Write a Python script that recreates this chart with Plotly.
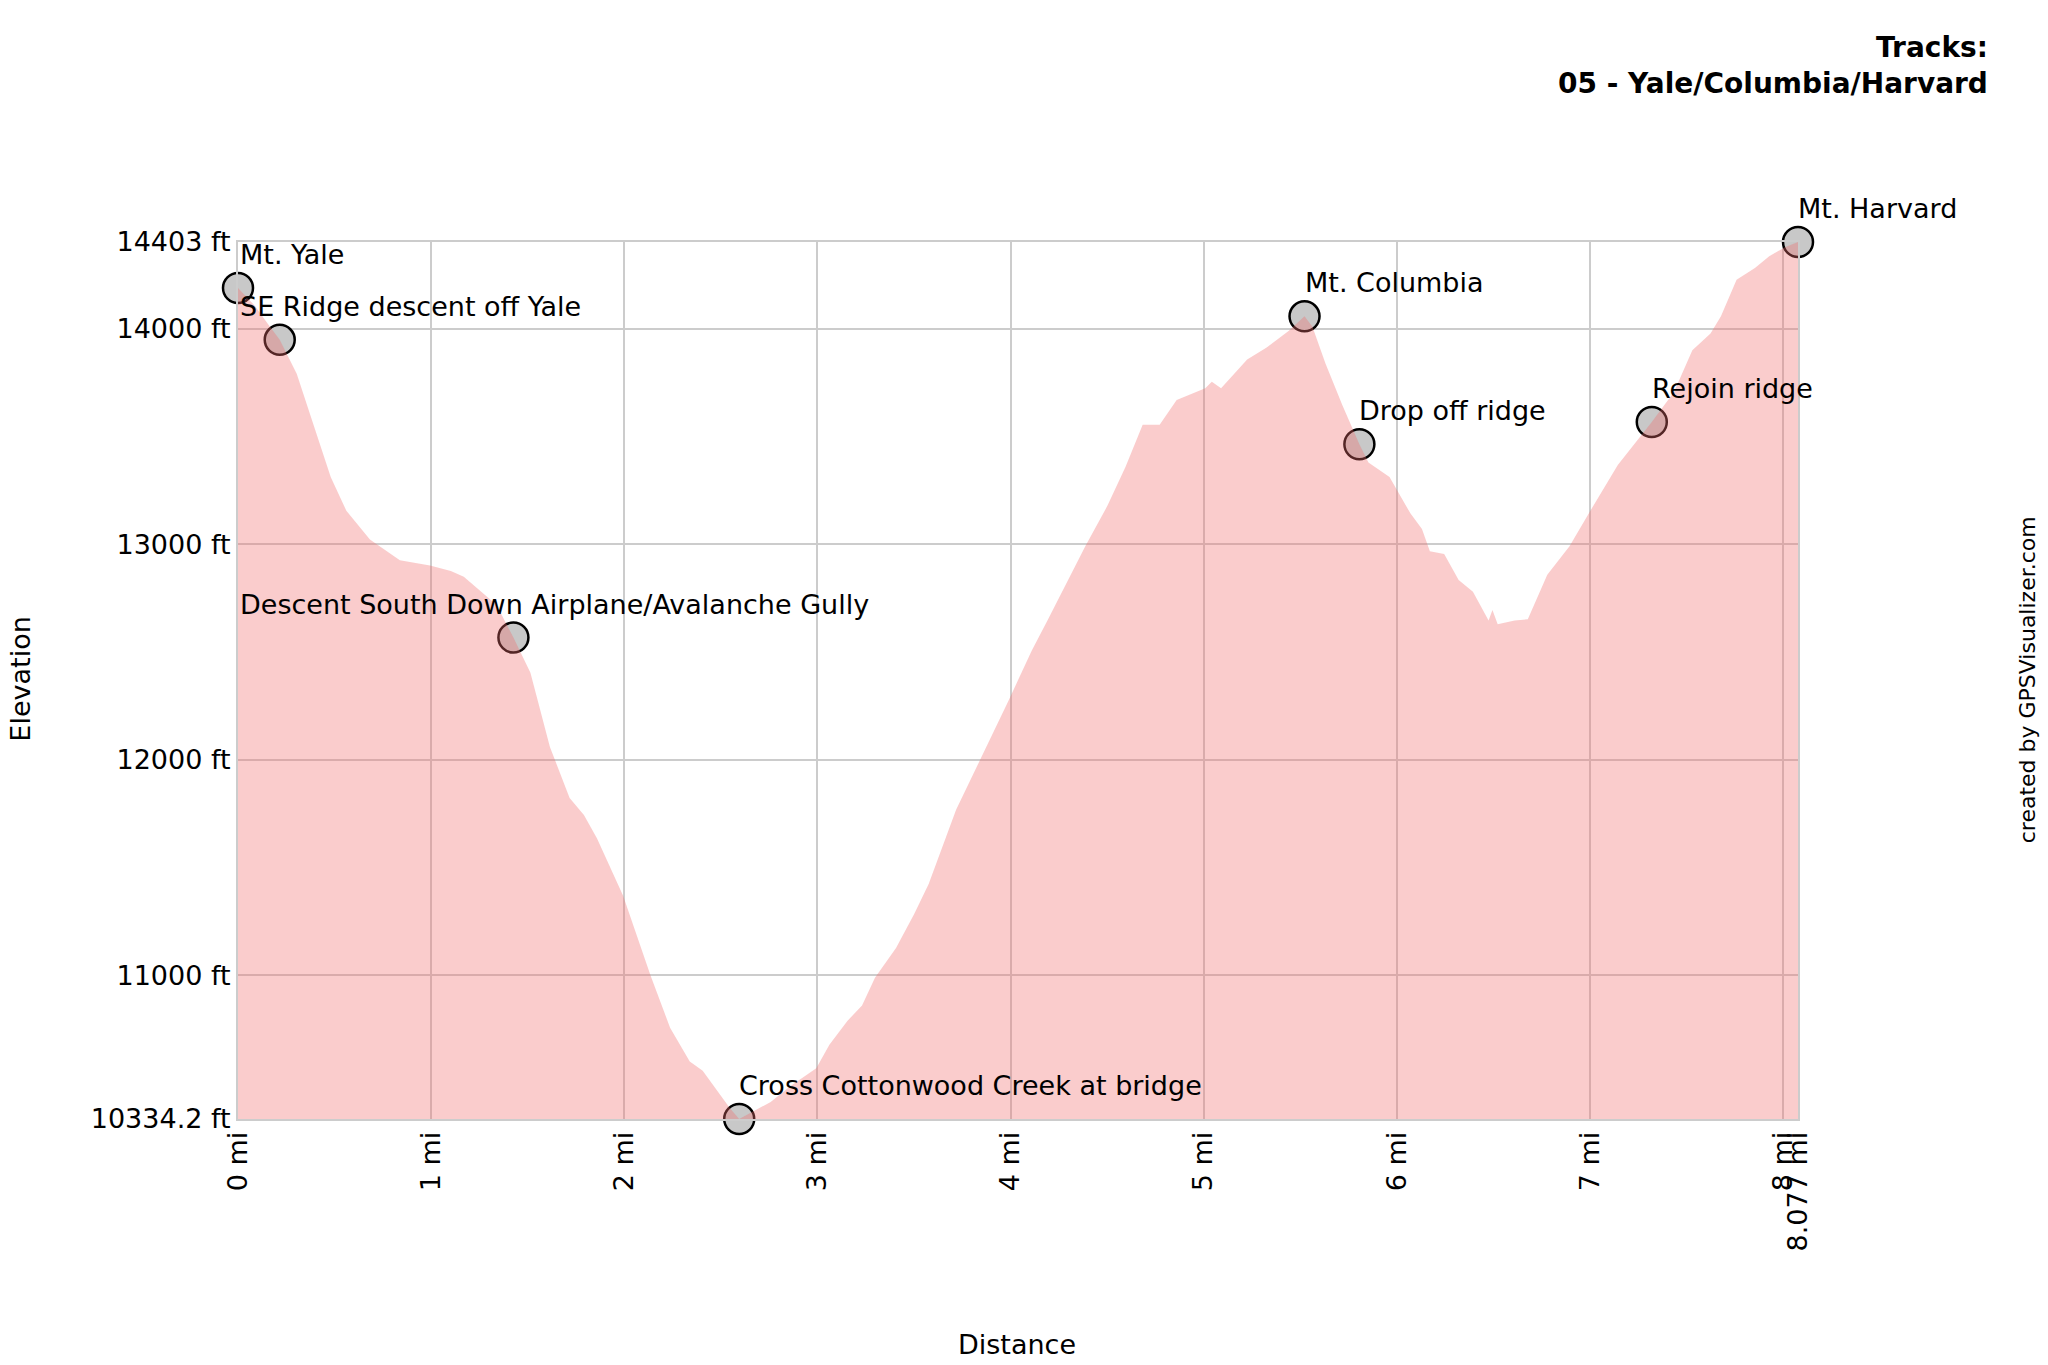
import plotly.graph_objects as go

# Elevation profile (distance in miles, elevation in feet)
dist_mi = [0.000, 0.088, 0.155, 0.216, 0.304, 0.392, 0.480, 0.561, 0.683, 0.838,
           0.994, 1.102, 1.169, 1.338, 1.426, 1.514, 1.615, 1.717, 1.791, 1.859,
           1.994, 2.136, 2.237, 2.339, 2.406, 2.548, 2.595, 2.758, 2.859, 2.994,
           3.062, 3.156, 3.231, 3.298, 3.407, 3.501, 3.576, 3.718, 3.846, 3.988,
           4.110, 4.191, 4.387, 4.502, 4.596, 4.684, 4.772, 4.860, 5.008, 5.042,
           5.090, 5.225, 5.326, 5.441, 5.522, 5.563, 5.630, 5.718, 5.806, 5.853,
           5.962, 6.070, 6.130, 6.171, 6.245, 6.320, 6.394, 6.475, 6.495, 6.522,
           6.610, 6.678, 6.779, 6.894, 7.002, 7.144, 7.320, 7.435, 7.530, 7.624,
           7.678, 7.759, 7.854, 7.928, 8.009, 8.077]
elev_ft = [14190, 14106, 14022, 13949, 13792, 13555, 13313, 13156, 13023, 12926,
           12902, 12877, 12850, 12720, 12568, 12405, 12060, 11824, 11745, 11636,
           11370, 11000, 10758, 10601, 10558, 10383, 10334.2, 10413, 10486, 10570,
           10679, 10790, 10861, 10990, 11127, 11285, 11424, 11769, 12005, 12272,
           12508, 12647, 12992, 13180, 13362, 13555, 13555, 13670, 13725, 13755,
           13725, 13858, 13913, 13991, 14058, 14010, 13840, 13646, 13465, 13380,
           13313, 13144, 13071, 12968, 12956, 12835, 12780, 12647, 12696, 12629,
           12647, 12653, 12859, 12992, 13156, 13368, 13568, 13707, 13901, 13979,
           14058, 14228, 14282, 14337, 14379, 14403]

# Waypoints
wpt_names = ["Mt. Yale", "SE Ridge descent off Yale",
             "Descent South Down Airplane/Avalanche Gully",
             "Cross Cottonwood Creek at bridge", "Mt. Columbia",
             "Drop off ridge", "Rejoin ridge", "Mt. Harvard"]
wpt_mi = [0.0, 0.216, 1.426, 2.595, 5.522, 5.806, 7.320, 8.077]
wpt_ft = [14190, 13949, 12568, 10334.2, 14058, 13465, 13568, 14403]
# labels that are pushed against the left edge of the plot
wpt_label_at_left_edge = [True, True, True, False, False, False, False, False]

# Axis ticks
x_tickvals = [0, 1, 2, 3, 4, 5, 6, 7, 8, 8.077]
x_ticktext = ["0 mi", "1 mi", "2 mi", "3 mi", "4 mi", "5 mi", "6 mi", "7 mi", "8 mi", "8.077 mi"]
y_tickvals = [10334.2, 11000, 12000, 13000, 14000, 14403]
y_ticktext = ["10334.2 ft", "11000 ft", "12000 ft", "13000 ft", "14000 ft", "14403 ft"]

FONT = "DejaVu Sans, Verdana, sans-serif"
FS = 27

fig = go.Figure()
fig.add_trace(go.Scatter(
    x=wpt_mi, y=wpt_ft, mode="markers",
    marker=dict(size=30, color="rgb(200,200,200)", line=dict(color="black", width=2.5)),
    showlegend=False, cliponaxis=False, hoverinfo="skip"))
fig.add_trace(go.Scatter(
    x=dist_mi, y=elev_ft, mode="lines", fill="tozeroy",
    line=dict(width=0, color="rgba(240,110,110,0.35)"),
    fillcolor="rgba(240,110,110,0.35)", showlegend=False, hoverinfo="skip"))

annotations = []
for n, xm, yf, edge in zip(wpt_names, wpt_mi, wpt_ft, wpt_label_at_left_edge):
    annotations.append(dict(x=0 if edge else xm, y=yf, xref="x", yref="y", text=n,
                            showarrow=False, xanchor="left", yanchor="bottom",
                            yshift=16, xshift=-2 if not edge else 0,
                            font=dict(family=FONT, size=FS, color="black")))
annotations += [
    dict(xref="paper", yref="paper", x=(1990 - 237.7) / (1798 - 237.7), y=1 + (241.6 - 28) / 877.6,
         text="<b>Tracks:</b><br><b>05 - Yale/Columbia/Harvard</b>", showarrow=False,
         xanchor="right", yanchor="top", align="right",
         font=dict(family=FONT, size=28, color="black")),
    dict(xref="paper", yref="paper", x=(20 - 237.7) / (1798 - 237.7), y=(1119 - 679) / 877.6,
         text="Elevation", textangle=-90, showarrow=False, xanchor="center", yanchor="middle",
         font=dict(family=FONT, size=FS, color="black")),
    dict(xref="paper", yref="paper", x=(1017 - 237.7) / (1798 - 237.7), y=(1119 - 1345) / 877.6,
         text="Distance", showarrow=False, xanchor="center", yanchor="middle",
         font=dict(family=FONT, size=FS, color="black")),
    dict(xref="paper", yref="paper", x=(2027 - 237.7) / (1798 - 237.7), y=(1119 - 679) / 877.6,
         text="created by GPSVisualizer.com", textangle=-90, showarrow=False,
         xanchor="center", yanchor="middle",
         font=dict(family=FONT, size=22, color="black")),
]

fig.update_layout(
    width=2048, height=1365,
    margin=dict(l=238, r=250, t=242, b=246, pad=0),
    paper_bgcolor="white", plot_bgcolor="white",
    font=dict(family=FONT, size=FS, color="black"),
    annotations=annotations,
    xaxis=dict(range=[0, 8.077], tickmode="array", tickvals=x_tickvals, ticktext=x_ticktext,
               tickangle=-90, showgrid=True, gridcolor="#cccccc", gridwidth=2,
               showline=True, linecolor="#cccccc", linewidth=2, mirror=True,
               zeroline=False, ticks="", tickfont=dict(family=FONT, size=FS, color="black")),
    yaxis=dict(range=[10334.2, 14403], tickmode="array", tickvals=y_tickvals, ticktext=y_ticktext,
               showgrid=True, gridcolor="#cccccc", gridwidth=2,
               showline=True, linecolor="#cccccc", linewidth=2, mirror=True,
               zeroline=False, ticks="", tickfont=dict(family=FONT, size=FS, color="black")),
)

fig.write_html("out.html", config={"displayModeBar": False})
